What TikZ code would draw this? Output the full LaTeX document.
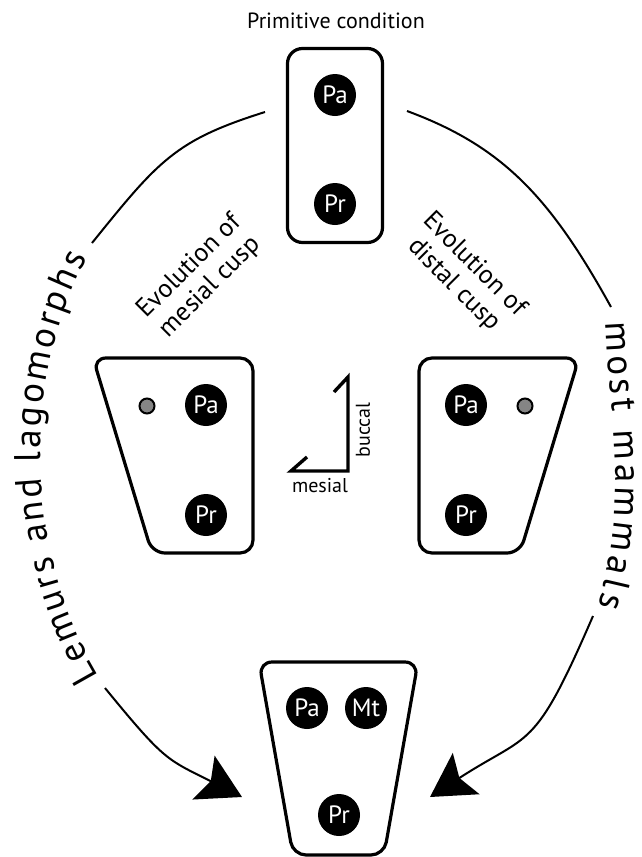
\documentclass[tikz,border=0pt]{standalone}
\usepackage{fontspec}
\setmainfont{PT Sans}
\usetikzlibrary{arrows.meta,decorations.text,calc}

\begin{document}
\begin{tikzpicture}[x=1pt,y=-1pt,
  tooth/.style={draw=black,line width=3.2pt,rounded corners=13pt},
  cusp/.style={circle,fill=black,minimum size=42pt,inner sep=0pt,text=white,
    font=\fontsize{25}{25}\selectfont},
  newcusp/.style={circle,draw=black,line width=2pt,fill=black!48,minimum size=15pt,inner sep=0pt},
  evo/.style={line width=2pt},
  bigarrow/.style={-{Stealth[length=43pt,width=49pt,inset=8pt]}},
  evolbl/.style={font=\fontsize{26}{29}\selectfont,align=center,inner sep=0pt},
  smalllbl/.style={font=\fontsize{20}{20}\selectfont,inner sep=0pt},
  sidetext/.style={decorate,decoration={text along path,
    text={|\fontsize{37}{37}\selectfont|#1},text align={fit to path}}}
]
\useasboundingbox (0,0) rectangle (641,857);

% title
\node[font=\fontsize{22}{23}\selectfont] (title) at (336,21) {Primitive condition};

% primitive tooth
\node[draw,line width=3.2pt,rounded corners=15pt,minimum width=95pt,minimum height=194pt] (prim) at (335,145.5) {};
\node[cusp] (pa0) at (335,95) {Pa};
\node[cusp] (pr0) at (335,204) {Pr};

% mesial cusp tooth (left)
\draw[tooth] (173,358) -- (253,358) -- (253,553) -- (152,553) -- (93,358) -- cycle;
\node[newcusp] (ms1) at (147,406) {};
\node[cusp] (pa1) at (206,405) {Pa};
\node[cusp] (pr1) at (206,515) {Pr};

% distal cusp tooth (right)
\draw[tooth] (499,358) -- (579,358) -- (520,553) -- (419,553) -- (419,358) -- cycle;
\node[newcusp] (ds2) at (525,406) {};
\node[cusp] (pa2) at (466,405) {Pa};
\node[cusp] (pr2) at (466,515) {Pr};

% derived tooth (bottom)
\draw[tooth] (338,662) -- (418,662) -- (384,855) -- (293,855) -- (259,662) -- cycle;
\node[cusp] (pa3) at (307,708) {Pa};
\node[cusp] (mt3) at (366,708) {Mt};
\node[cusp] (pr3) at (339,815) {Pr};

% labels on the two pathways
\node[evolbl,rotate=45] (mesialtxt) at (200,277) {Evolution of\\mesial cusp};
\node[evolbl,rotate=-45] (distaltxt) at (464,275) {Evolution of\\distal cusp};

% orientation key
\coordinate (kb) at (348,377);
\coordinate (kc) at (348,471);
\coordinate (km) at (291,471);
\draw[line width=3.4pt] ($(kb)+(-14,15)$) -- (kb) -- (kc) -- (km) -- ($(km)+(16,-14)$);
\node[smalllbl,rotate=90] (bucc) at (363,430) {buccal};
\node[smalllbl] (mes) at (320,486) {mesial};

% left pathway: lemurs and lagomorphs
\coordinate (La) at (265,112);
\coordinate (Lb) at (92,243);
\coordinate (Lc) at (105,688);
\coordinate (Ld) at (242,797);
\draw[evo] (La) .. controls (175.4,140.2) and (158.9,160.1) .. (Lb);
\path[sidetext={Lemurs and lagomorphs}]
  (99,676) .. controls (27,555.6) and (19,386.4) .. (87,258);
\draw[evo,bigarrow] (Lc) .. controls (165.5,762) and (166.8,759) .. (Ld);

% right pathway: most mammals
\coordinate (Ra) at (407,111);
\coordinate (Rb) at (611,307);
\coordinate (Rc) at (593,616);
\coordinate (Rd) at (430,797);
\draw[evo] (Ra) .. controls (502.5,146.3) and (550.2,197.0) .. (Rb);
\path[sidetext={most mammals}]
  (606,322) .. controls (611,433.6) and (629,497.1) .. (598,606);
\draw[evo,bigarrow] (Rc) .. controls (533.6,753.4) and (530.8,731.7) .. (Rd);
\end{tikzpicture}
\end{document}
